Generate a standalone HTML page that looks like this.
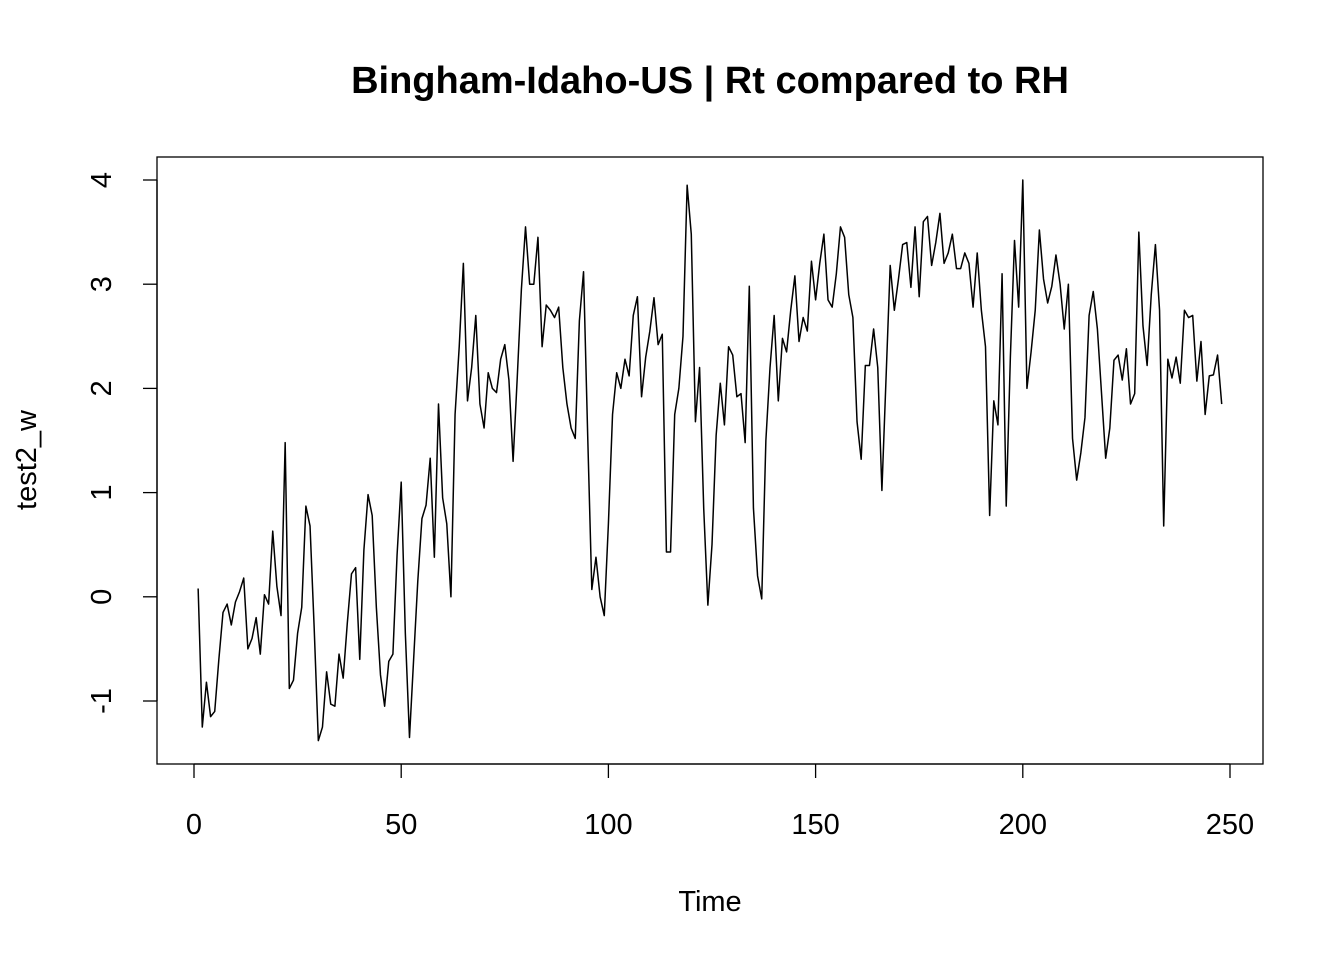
<!DOCTYPE html>
<html><head><meta charset="utf-8"><style>
body{margin:0;background:#fff}
svg{display:block;font-family:"Liberation Sans",Arial,sans-serif}
</style></head><body>
<svg id="chart" width="1344" height="960">
<text x="710" y="93" font-size="38" font-weight="bold" text-anchor="middle">Bingham-Idaho-US | Rt compared to RH</text>
<rect x="157" y="157" width="1106" height="607" fill="none" stroke="#000" stroke-width="1.3"/>
<text x="710" y="911" font-size="29" text-anchor="middle">Time</text>
<text transform="translate(36,460) rotate(-90)" font-size="29" text-anchor="middle">test2_w</text>
<g id="axes"></g>
<path id="series" fill="none" stroke="#000" stroke-width="1.5" stroke-linejoin="round"/>
</svg>
<script>
const xTicks=[0,50,100,150,200,250];
const yTicks=[-1,0,1,2,3,4];
const values=[0.08,-1.25,-0.82,-1.15,-1.1,-0.6,-0.15,-0.07,-0.27,-0.05,0.05,0.18,-0.5,-0.4,-0.2,-0.55,0.02,-0.07,0.63,0.1,
-0.18,1.48,-0.88,-0.8,-0.35,-0.1,0.87,0.68,-0.3,-1.38,-1.25,-0.72,-1.03,-1.05,-0.55,-0.78,-0.25,0.22,0.28,-0.6,
0.45,0.98,0.78,-0.1,-0.75,-1.05,-0.62,-0.55,0.4,1.1,-0.35,-1.35,-0.6,0.15,0.75,0.88,1.33,0.38,1.85,0.95,
0.7,0.0,1.75,2.4,3.2,1.88,2.2,2.7,1.85,1.62,2.15,2.0,1.96,2.28,2.42,2.08,1.3,2.1,2.95,3.55,
3.0,3.0,3.45,2.4,2.8,2.75,2.68,2.78,2.2,1.85,1.62,1.52,2.65,3.12,1.55,0.07,0.38,0.0,-0.18,0.7,
1.75,2.15,2.0,2.28,2.12,2.7,2.88,1.92,2.3,2.55,2.87,2.42,2.52,0.43,0.43,1.75,2.0,2.5,3.95,3.48,
1.68,2.2,0.85,-0.08,0.5,1.55,2.05,1.65,2.4,2.32,1.92,1.95,1.48,2.98,0.85,0.2,-0.02,1.5,2.2,2.7,
1.88,2.48,2.35,2.75,3.08,2.45,2.68,2.55,3.22,2.85,3.2,3.48,2.85,2.78,3.1,3.55,3.45,2.9,2.68,1.68,
1.32,2.22,2.22,2.57,2.2,1.02,2.1,3.18,2.75,3.05,3.38,3.4,2.97,3.55,2.88,3.6,3.65,3.18,3.4,3.68,
3.2,3.3,3.48,3.15,3.15,3.3,3.2,2.78,3.3,2.75,2.4,0.78,1.88,1.65,3.1,0.87,2.3,3.42,2.78,4.0,
2.0,2.35,2.75,3.52,3.05,2.82,2.98,3.28,3.0,2.57,3.0,1.52,1.12,1.38,1.72,2.7,2.93,2.57,1.95,1.33,
1.62,2.27,2.32,2.08,2.38,1.85,1.95,3.5,2.6,2.22,2.9,3.38,2.75,0.68,2.28,2.1,2.3,2.05,2.75,2.68,
2.7,2.07,2.45,1.75,2.12,2.13,2.32,1.85];
const NS='http://www.w3.org/2000/svg';
function xs(t){return 194+(t-0)*(1230-194)/250;}
function ys(v){return 596.8-v*(596.8-180)/4;}
const g=document.getElementById('axes');
function mk(tag,attrs,parent){const e=document.createElementNS(NS,tag);for(const k in attrs)e.setAttribute(k,attrs[k]);parent.appendChild(e);return e;}
mk('line',{x1:xs(xTicks[0]),x2:xs(xTicks[xTicks.length-1]),y1:764,y2:764,stroke:'#000','stroke-width':1.3},g);
mk('line',{x1:157,x2:157,y1:ys(yTicks[0]),y2:ys(yTicks[yTicks.length-1]),stroke:'#000','stroke-width':1.3},g);
xTicks.forEach(t=>{
  const l=mk('line',{x1:xs(t),x2:xs(t),y1:764,y2:778,stroke:'#000','stroke-width':1.3},g);
  
  
  const tx=mk('text',{x:xs(t),y:834,'font-size':29,'text-anchor':'middle'},g);
  tx.textContent=t;
  
  
});
yTicks.forEach(v=>{
  const l=mk('line',{x1:143,x2:157,y1:ys(v),y2:ys(v),stroke:'#000','stroke-width':1.3},g);
  
  
  const tx=mk('text',{transform:`translate(111,${ys(v)}) rotate(-90)`,'font-size':29,'text-anchor':'middle'},g);
  tx.textContent=v;
  
  
});
document.getElementById('series').setAttribute('d',values.map((v,i)=>(i?'L':'M')+xs(i+1).toFixed(2)+','+ys(v).toFixed(2)).join(''));
</script>
</body></html>
